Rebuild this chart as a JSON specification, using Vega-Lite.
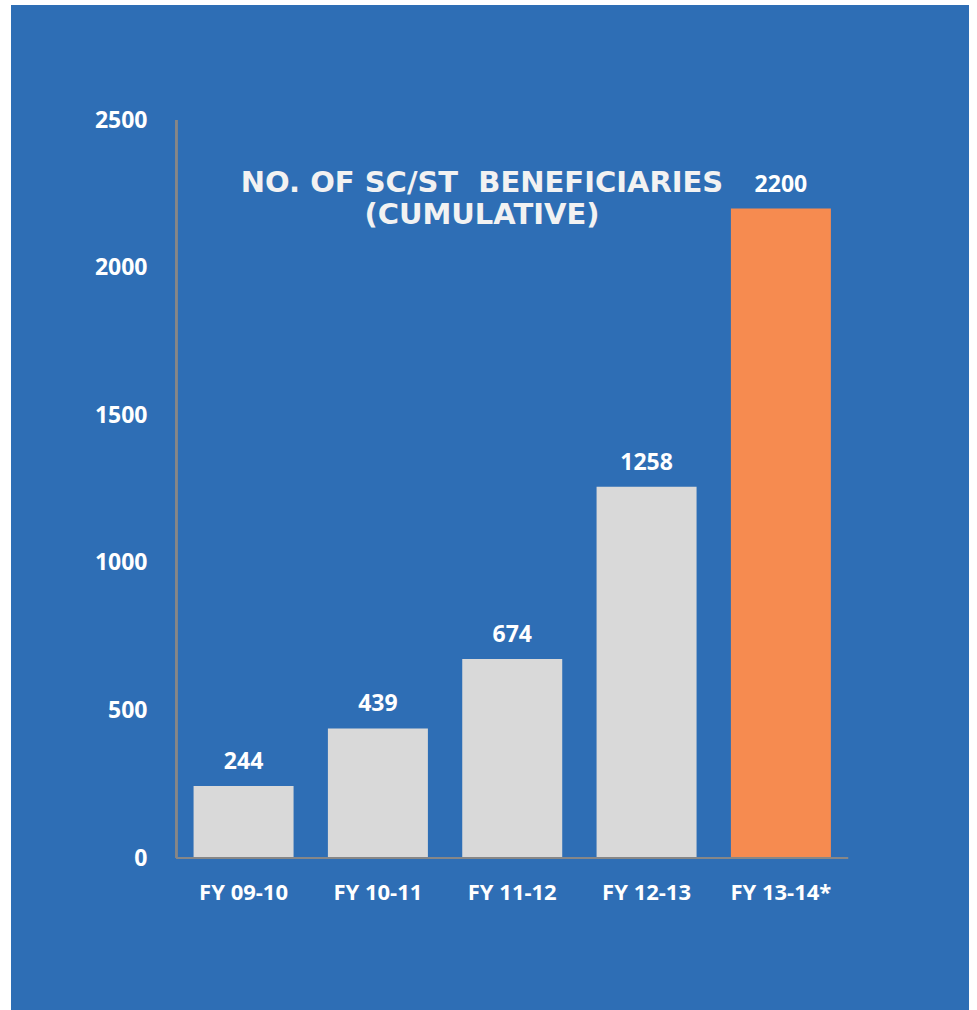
{
  "$schema": "https://vega.github.io/schema/vega-lite/v6.json",
  "width": 958,
  "height": 1005,
  "autosize": {"type": "none"},
  "padding": {"left": 11, "top": 5, "right": 8, "bottom": 0},
  "background": "#FFFFFF",
  "config": {"view": {"fill": "#2E6EB5", "stroke": null}},
  "title": {
    "text": ["NO. OF SC/ST\u00a0 BENEFICIARIES", "(CUMULATIVE)"],
    "anchor": "middle",
    "frame": "group",
    "orient": "top",
    "baseline": "top",
    "offset": 0,
    "dy": 225,
    "dx": -8,
    "font": "DejaVu Sans",
    "fontSize": 29,
    "fontWeight": "bold",
    "color": "#F2F2F2",
    "lineHeight": 32
  },
  "data": {
    "values": [
      {"fy": "FY 09-10", "idx": 1, "value": 244, "highlight": "no"},
      {"fy": "FY 10-11", "idx": 2, "value": 439, "highlight": "no"},
      {"fy": "FY 11-12", "idx": 3, "value": 674, "highlight": "no"},
      {"fy": "FY 12-13", "idx": 4, "value": 1258, "highlight": "no"},
      {"fy": "FY 13-14*", "idx": 5, "value": 2200, "highlight": "yes"}
    ]
  },
  "layer": [
    {
      "mark": {"type": "bar", "width": 100},
      "encoding": {
        "x": {"field": "idx", "type": "quantitative", "scale": {"domain": [-0.694, 6.363], "nice": false, "zero": false}, "axis": null},
        "y": {
          "field": "value", "type": "quantitative",
          "scale": {"domain": [-514.9, 2889.6], "nice": false, "zero": false},
          "axis": {
            "orient": "left", "offset": -162, "domain": false, "ticks": false, "tickSize": 0, "grid": false,
            "values": [0, 500, 1000, 1500, 2000, 2500], "format": "d", "title": null,
            "labelFont": "Open Sans", "labelFontSize": 23, "labelFontWeight": "bold", "labelColor": "#FFFFFF",
            "labelPadding": 26
          }
        },
        "y2": {"datum": 0},
        "color": {"field": "highlight", "type": "nominal", "scale": {"domain": ["no", "yes"], "range": ["#D9D9D9", "#F68B50"]}, "legend": null}
      }
    },
    {
      "mark": {"type": "text", "dy": -17, "baseline": "alphabetic", "font": "Open Sans", "fontSize": 23, "fontWeight": "bold", "color": "#FFFFFF"},
      "encoding": {
        "x": {"field": "idx", "type": "quantitative"},
        "y": {"field": "value", "type": "quantitative"},
        "text": {"field": "value", "type": "quantitative"}
      }
    },
    {
      "mark": {"type": "text", "dy": 25, "baseline": "top", "font": "Open Sans", "fontSize": 22, "fontWeight": "bold", "color": "#FFFFFF"},
      "encoding": {
        "x": {"field": "idx", "type": "quantitative"},
        "y": {"datum": 0, "type": "quantitative"},
        "text": {"field": "fy", "type": "nominal"}
      }
    },
    {
      "mark": {"type": "rule", "color": "#878787", "strokeWidth": 2},
      "encoding": {
        "x": {"datum": 0.5, "type": "quantitative"},
        "y": {"datum": 0, "type": "quantitative"},
        "y2": {"datum": 2500}
      }
    },
    {
      "mark": {"type": "rule", "color": "#878787", "strokeWidth": 2},
      "encoding": {
        "y": {"datum": 0, "type": "quantitative"},
        "x": {"datum": 0.5, "type": "quantitative"},
        "x2": {"datum": 5.5}
      }
    }
  ]
}
